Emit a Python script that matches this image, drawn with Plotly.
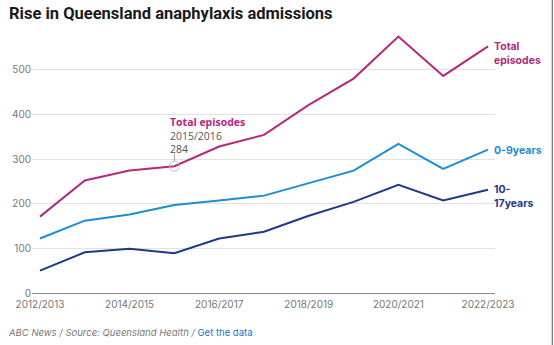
import plotly.graph_objects as go

years = ["2012/2013", "2013/2014", "2014/2015", "2015/2016", "2016/2017", "2017/2018",
         "2018/2019", "2019/2020", "2020/2021", "2021/2022", "2022/2023"]
total_episodes = [171, 252, 274, 284, 328, 354, 421, 480, 574, 486, 552]
age_0_9 = [122, 162, 176, 197, 207, 218, 246, 274, 334, 278, 321]
age_10_17 = [50, 91, 99, 89, 122, 137, 173, 204, 242, 207, 231]

tick_years = years[::2]
y_ticks = [0, 100, 200, 300, 400, 500]

C_TOTAL = "#b5287c"
C_YOUNG = "#1b8dd6"
C_TEEN = "#1b3a8c"
FONT = "Inter, Noto Sans, sans-serif"

W, H = 554, 345
ML, MR, MT, MB = 30, 59, 25, 52
PW, PH = W - ML - MR, H - MT - MB


def px_x(px):
    return (px - ML) / PW


def px_y(py):
    return (H - MB - py) / PH


fig = go.Figure()
for vals, col in [(age_10_17, C_TEEN), (age_0_9, C_YOUNG), (total_episodes, C_TOTAL)]:
    fig.add_trace(go.Scatter(x=years, y=vals, mode="lines",
                             line=dict(color=col, width=2), hoverinfo="skip",
                             showlegend=False))

# highlighted point
hi = 3
fig.add_trace(go.Scatter(x=[years[hi]], y=[total_episodes[hi]], mode="markers",
                         marker=dict(size=10, color="rgba(255,255,255,0)",
                                     line=dict(color="#b8b8b8", width=1)),
                         hoverinfo="skip", showlegend=False))
fig.add_shape(type="line", xref="x", yref="y", x0=years[hi], x1=years[hi],
              y0=total_episodes[hi] + 12, y1=total_episodes[hi] + 28,
              line=dict(color="#999999", width=1))

anns = [
    dict(x=years[hi], y=total_episodes[hi], xref="x", yref="y", xanchor="left", yanchor="bottom",
         xshift=-6, yshift=8, align="left",
         text=f"<b><span style='color:{C_TOTAL}'>Total episodes</span></b><br>{years[hi]}<br>{total_episodes[hi]}",
         font=dict(color="#555555", size=10.5, family="Open Sans, sans-serif")),
    dict(x=1, y=total_episodes[-1], xref="paper", yref="y", xanchor="left", yanchor="middle",
         xshift=-3, yshift=-7, align="left", text="<b>Total<br>episodes</b>",
         font=dict(color=C_TOTAL, size=10.5)),
    dict(x=1, y=age_0_9[-1], xref="paper", yref="y", xanchor="left", yanchor="middle",
         xshift=-3, yshift=-1, align="left", text="<b>0-9years</b>",
         font=dict(color=C_YOUNG, size=10.5)),
    dict(x=1, y=age_10_17[-1], xref="paper", yref="y", xanchor="left", yanchor="middle",
         xshift=-3, yshift=-7, align="left", text="<b>10-<br>17years</b>",
         font=dict(color=C_TEEN, size=10.5)),
    dict(x=px_x(5), y=px_y(14), xref="paper", yref="paper", xanchor="left", yanchor="middle",
         text="<b>Rise in Queensland anaphylaxis admissions</b>",
         font=dict(color="#1a1a1a", size=16.5, family="Roboto, sans-serif")),
    dict(x=px_x(4), y=px_y(332), xref="paper", yref="paper", xanchor="left", yanchor="middle",
         text="<i>ABC News / Source: Queensland Health / </i><span style='color:#1a73d9'>Get the data</span>",
         font=dict(color="#777777", size=9.5)),
]
for a in anns:
    a.setdefault("showarrow", False)
    fig.add_annotation(**a)

fig.add_shape(type="line", xref="paper", yref="paper", x0=px_x(W - 1.5), x1=px_x(W - 1.5),
              y0=px_y(H), y1=px_y(0), line=dict(color="#555555", width=1))

fig.update_layout(
    width=W, height=H, margin=dict(l=ML, r=MR, t=MT, b=MB),
    paper_bgcolor="white", plot_bgcolor="white",
    font=dict(family=FONT, color="#777777", size=10),
    xaxis=dict(type="category", categoryorder="array", categoryarray=years,
               range=[-0.178, 10.156], tickvals=tick_years, ticktext=tick_years,
               showgrid=False, zeroline=False, showline=False, ticks="",
               ticklabelstandoff=4,
               tickfont=dict(size=10, color="#777777")),
    yaxis=dict(range=[0, 600], tickvals=y_ticks, showgrid=True, gridcolor="#e2e2e2",
               gridwidth=1, zeroline=True, zerolinecolor="#888888", zerolinewidth=1,
               showline=False, ticks="", tickfont=dict(size=10, color="#777777")),
)
fig.write_html("out.html")
